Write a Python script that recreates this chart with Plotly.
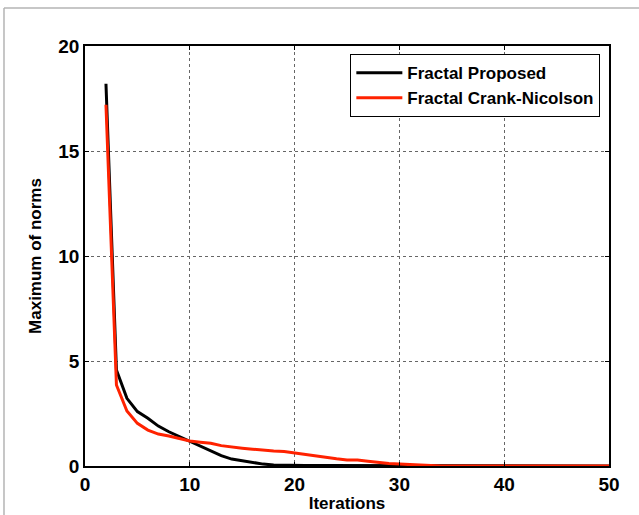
import plotly.graph_objects as go

iterations = list(range(2, 51))

proposed = [18.2, 4.57, 3.22, 2.59, 2.27, 1.90, 1.63, 1.40, 1.19, 0.95,
            0.71, 0.49, 0.33, 0.25, 0.17, 0.09, 0.05, 0.03, 0.02, 0.02,
            0.02, 0.02, 0.02, 0.02, 0.02, 0.02, 0.02, 0.01, 0.01, 0.0,
            0.0, 0.0, 0.0, 0.0, 0.0, 0.0, 0.0, 0.0, 0.0, 0.0,
            0.0, 0.0, 0.0, 0.0, 0.0, 0.0, 0.0, 0.0, 0.0]

crank_nicolson = [17.2, 3.86, 2.62, 2.03, 1.71, 1.52, 1.43, 1.32, 1.19, 1.13,
                  1.08, 0.97, 0.90, 0.85, 0.80, 0.75, 0.71, 0.69, 0.62, 0.52,
                  0.45, 0.39, 0.34, 0.29, 0.28, 0.23, 0.17, 0.12, 0.09, 0.07,
                  0.02, 0.0, 0.0, 0.0, 0.0, 0.0, 0.0, 0.0, 0.0, 0.0,
                  0.0, 0.0, 0.0, 0.0, 0.0, 0.0, 0.0, 0.0, 0.0]

x_ticks = [0, 10, 20, 30, 40, 50]
y_ticks = [0, 5, 10, 15, 20]

FONT = "Liberation Sans"

fig = go.Figure()
fig.add_trace(go.Scatter(x=iterations, y=proposed, mode="lines",
                         name="<b>Fractal Proposed</b>",
                         line=dict(color="black", width=3)))
fig.add_trace(go.Scatter(x=iterations, y=crank_nicolson, mode="lines",
                         name="<b>Fractal Crank-Nicolson</b>",
                         line=dict(color="#ff2200", width=3)))

axis_common = dict(showline=True, linecolor="black", linewidth=1.5, mirror="ticks",
                   ticks="inside", ticklen=4, tickcolor="black",
                   showgrid=True, gridcolor="#666666", gridwidth=1, griddash="dot",
                   zeroline=False, automargin=False,
                   tickfont=dict(family=FONT, size=19, color="black", weight="bold"))

fig.update_xaxes(range=[0, 50], tickvals=x_ticks,
                 title=dict(text="<b>Iterations</b>", standoff=4,
                            font=dict(family=FONT, size=17, color="black")),
                 **axis_common)
fig.update_yaxes(range=[0, 20], tickvals=y_ticks,
                 title=dict(text="<b>Maximum of norms</b>", standoff=12,
                            font=dict(family=FONT, size=17, color="black")),
                 **axis_common)

# outer light-gray frame (partial, like the reference image border)
fig.add_shape(type="line", xref="paper", yref="paper",
              x0=-0.1546, x1=1.06, y0=1.0905, y1=1.0905,
              line=dict(color="#b4b4b4", width=1.5))
fig.add_shape(type="line", xref="paper", yref="paper",
              x0=-0.1546, x1=-0.1546, y0=1.0905, y1=-0.12,
              line=dict(color="#b4b4b4", width=1.5))

fig.update_layout(
    width=639, height=515,
    margin=dict(l=85, r=30, t=46, b=49),
    paper_bgcolor="white", plot_bgcolor="white",
    font=dict(family=FONT, color="black"),
    legend=dict(x=0.506, y=0.981, xanchor="left", yanchor="top",
                bgcolor="white", bordercolor="black", borderwidth=1.2,
                font=dict(family=FONT, size=17, color="black"),
                tracegroupgap=0, itemwidth=46),
    showlegend=True,
)

fig.write_html("out.html")
